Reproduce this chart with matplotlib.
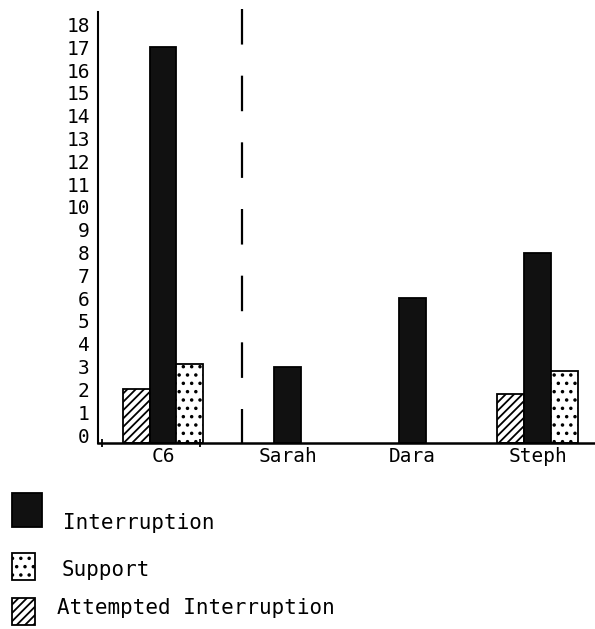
import matplotlib.pyplot as plt
plt.switch_backend('agg')
import numpy as np
from matplotlib.patches import Rectangle

# values
speakers = ['C6', 'Sarah', 'Dara', 'Steph']
interruption = [17, 3, 6, 8]
support = [3.1, 0, 0, 2.8]
attempted = [2.0, 0, 0, 1.8]
yticks = list(range(0, 19))

plt.rcParams['font.family'] = ['DejaVu Sans Mono']
plt.rcParams['hatch.linewidth'] = 1.3

fig = plt.figure(figsize=(5.95, 6.29), dpi=100)
ax = fig.add_axes([98/595, (629-443)/629, 1-98/595, (443-12)/629])

base = -0.35  # bars in the scan start a bit under the "0" label
ymax = 18.55
ind = np.arange(1, len(speakers)+1)
width = 0.215

def bars(x, vals, **kw):
    v = np.array(vals, dtype=float)
    keep = v > 0
    ax.bar(x[keep], v[keep]-base, width, bottom=base, **kw)

bars(ind - width, attempted, color='white', edgecolor='black', hatch='////', lw=1.3)
bars(ind, interruption, color='#111111', edgecolor='black', lw=1.3)
bars(ind + width, support, color='white', edgecolor='black', hatch='..', lw=1.3)

# divider between the teacher and the pupils, drawn top-down like the scan
ax.plot([1.632, 1.632], [ymax + 0.15, base], color='black', lw=1.6,
        linestyle=(0, (16, 14)), clip_on=False)

ax.set_xlim(0.48, 4.46)
ax.set_ylim(base, ymax)
ax.set_yticks(yticks)
ax.set_yticklabels([str(t) for t in yticks], fontsize=14)
ax.set_xticks(ind)
ax.set_xticklabels(speakers, fontsize=14)
ax.tick_params(axis='y', length=0, pad=6)
ax.tick_params(axis='x', length=0, pad=3)
ax.set_xticks([0.51, 1.30], minor=True)
ax.tick_params(axis='x', which='minor', length=6, direction='inout', width=1.3)
for s in ['top', 'right']:
    ax.spines[s].set_visible(False)
ax.spines['left'].set_linewidth(1.5)
ax.spines['bottom'].set_linewidth(1.8)

# legend drawn by hand, the way it sits in the scan
def key(x, y, w, h, **kw):
    fig.patches.append(Rectangle((x/595, (629-y-h)/629), w/595, h/629,
                                 transform=fig.transFigure, lw=1.3, **kw))

key(12, 493, 30, 34, facecolor='#111111', edgecolor='black')
key(12, 553, 23, 27, facecolor='white', edgecolor='black', hatch='..')
key(12, 598, 23, 27, facecolor='white', edgecolor='black', hatch='////')

fig.text(63/595, 1-523/629, 'Interruption', fontsize=15, va='center')
fig.text(62/595, 1-570/629, 'Support', fontsize=15, va='center')
fig.text(57/595, 1-608/629, 'Attempted Interruption', fontsize=15, va='center')

plt.savefig('out.png', dpi=100)
plt.close()
